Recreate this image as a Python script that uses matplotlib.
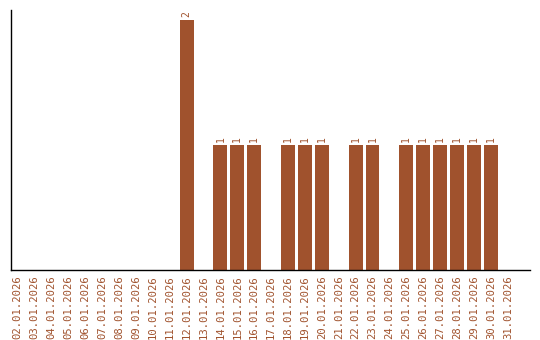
import matplotlib
matplotlib.use("Agg")
import matplotlib.pyplot as plt

dates = [f"{d:02d}.01.2026" for d in range(2, 32)]
values = [0, 0, 0, 0, 0, 0, 0, 0, 0, 0, 2, 0, 1, 1, 1, 0, 1, 1, 1, 0, 1, 1, 0, 1, 1, 1, 1, 1, 1, 0]

color = "#A0522D"
fig = plt.figure(figsize=(5.4, 3.4), dpi=100)
ax = fig.add_axes([0.02, 0.206, 0.961, 0.765])
x = list(range(len(dates)))
ax.bar(x, values, width=0.82, color=color)
for xi, v in zip(x, values):
    if v > 0:
        ax.text(xi, v + 0.02, str(v), rotation=90, ha="center", va="bottom",
                fontsize=7, color=color, family="DejaVu Sans Mono")
ax.set_xlim(-0.4, 30.3)
ax.set_ylim(0, 2.08)
ax.set_xticks(x)
ax.set_xticklabels(dates, rotation=90, fontsize=7.6, color=color, family="DejaVu Sans Mono")
ax.tick_params(axis="x", length=0, pad=4)
ax.set_yticks([])
ax.spines["top"].set_visible(False)
ax.spines["right"].set_visible(False)
ax.spines["left"].set_linewidth(1)
ax.spines["bottom"].set_linewidth(1)
fig.savefig("out.png", dpi=100)
